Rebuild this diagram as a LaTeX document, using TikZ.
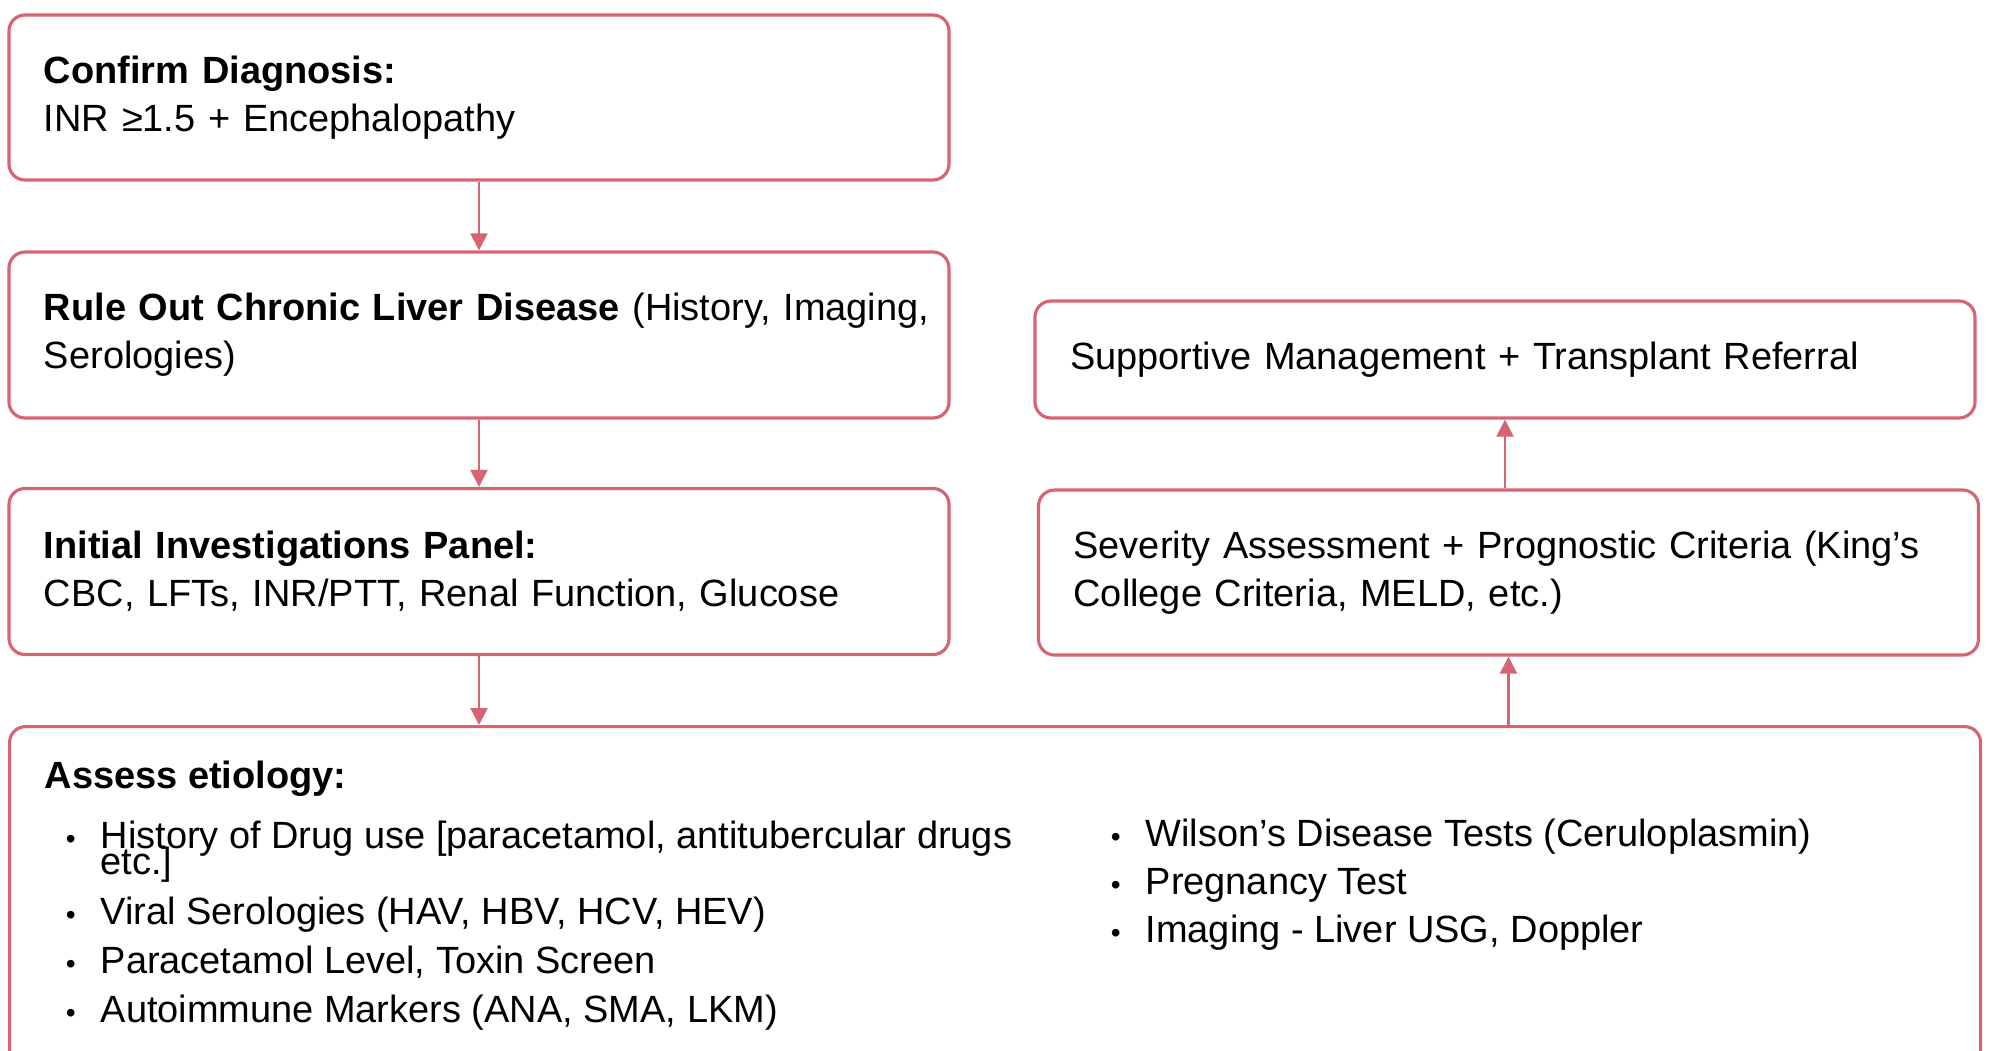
\documentclass[tikz,border=0pt]{standalone}
\usepackage{fontspec}
\setmainfont{Liberation Sans}
\usetikzlibrary{arrows.meta,positioning}
\definecolor{flowred}{RGB}{214,100,114}
\newcommand{\itembullet}{\llap{{\fontsize{8}{8}\selectfont\textbullet}\hspace{2.5mm}}}

\begin{document}
\begin{tikzpicture}[>={Triangle[length=1.7mm,width=1.7mm]},
  every node/.style={font=\fontsize{10.8}{13.7}\selectfont},
  stepbox/.style={draw=flowred,line width=0.9pt,rounded corners=1.6mm,fill=white,
    text width=8.7cm,inner xsep=3.5mm,inner ysep=0pt,align=left},
  listline/.style={anchor=base west,inner sep=0pt,align=left},
  link/.style={->,draw=flowred,line width=0.6pt}]
  \useasboundingbox (0,0) rectangle (19.89,-10.5);

  % Left column
  \node[stepbox,minimum height=1.65cm] (confirm) at (4.79,-0.975)
    {\textbf{Confirm Diagnosis:}\\INR ≥1.5 + Encephalopathy};
  \node[stepbox,minimum height=1.66cm] (ruleout) at (4.79,-3.35)
    {\mbox{\textbf{Rule Out Chronic Liver Disease} (History, Imaging,}\\Serologies)};
  \node[stepbox,minimum height=1.66cm] (panel) at (4.79,-5.715)
    {\textbf{Initial Investigations Panel:}\\CBC, LFTs, INR/PTT, Renal Function, Glucose};

  % Right column
  \node[stepbox,minimum height=1.65cm] (severity) at (15.085,-5.725)
    {Severity Assessment + Prognostic Criteria (King's\\College Criteria, MELD, etc.)};
  \node[stepbox,minimum height=1.17cm] (support) at (15.05,-3.595)
    {Supportive Management + Transplant Referral};

  % Etiology box (runs off the bottom edge)
  \node[draw=flowred,line width=0.9pt,rounded corners=1.6mm,fill=white,anchor=north west,
    minimum width=19.71cm,minimum height=3.6cm,inner sep=0pt] (etiology) at (0.08,-7.25) {};
  \node[listline] (etiohead) at (0.44,-7.88) {\textbf{Assess etiology:}};
  \node[listline] (drugs) at (1.00,-8.74)
    {\itembullet History of Drug use [paracetamol, antitubercular drugs\\[-6.4pt]etc.]};
  \node[listline] (viral) at (1.00,-9.24) {\itembullet Viral Serologies (HAV, HBV, HCV, HEV)};
  \node[listline] (paracet) at (1.00,-9.73) {\itembullet Paracetamol Level, Toxin Screen};
  \node[listline] (autoimm) at (1.00,-10.22) {\itembullet Autoimmune Markers (ANA, SMA, LKM)};
  \node[listline] (wilson) at (11.45,-8.46) {\itembullet Wilson's Disease Tests (Ceruloplasmin)};
  \node[listline] (pregnancy) at (11.45,-8.94) {\itembullet Pregnancy Test};
  \node[listline] (usg) at (11.45,-9.42) {\itembullet Imaging - Liver USG, Doppler};

  % Connectors
  \draw[link] (confirm) -- (ruleout);
  \draw[link] (ruleout) -- (panel);
  \draw[link] (panel.south) -- (panel.south |- etiology.north);
  \draw[link] (severity.south |- etiology.north) -- (severity.south);
  \draw[link] (severity.north -| support.south) -- (support.south);
\end{tikzpicture}
\end{document}
